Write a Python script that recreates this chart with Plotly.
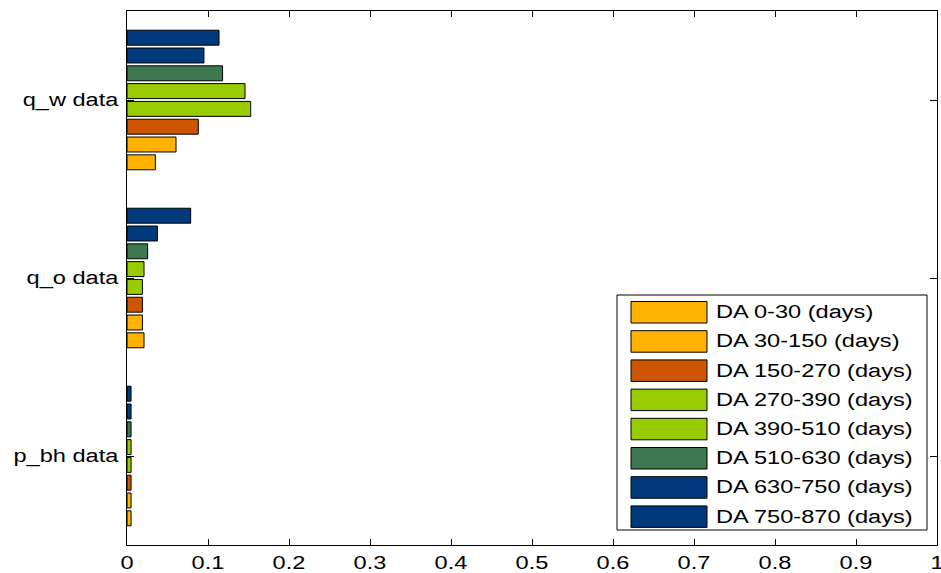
import plotly.graph_objects as go

# Categories on the y axis, bottom to top
categories = ["p_bh data", "q_o data", "q_w data"]

series_names = [
    "DA 0-30 (days)", "DA 30-150 (days)", "DA 150-270 (days)", "DA 270-390 (days)",
    "DA 390-510 (days)", "DA 510-630 (days)", "DA 630-750 (days)", "DA 750-870 (days)",
]

# Values per series, in the same order as `categories`
da_0_30 = [0.005, 0.021, 0.035]
da_30_150 = [0.005, 0.019, 0.0605]
da_150_270 = [0.005, 0.019, 0.088]
da_270_390 = [0.005, 0.019, 0.1527]
da_390_510 = [0.005, 0.021, 0.1457]
da_510_630 = [0.005, 0.0255, 0.118]
da_630_750 = [0.005, 0.0375, 0.095]
da_750_870 = [0.005, 0.0786, 0.1136]

series_values = [da_0_30, da_30_150, da_150_270, da_270_390,
                 da_390_510, da_510_630, da_630_750, da_750_870]

series_colors = ["#FFB300", "#FFB300", "#CC5500", "#99CC00",
                 "#99CC00", "#3D7850", "#003A7D", "#003A7D"]

x_tick_values = [0, 0.1, 0.2, 0.3, 0.4, 0.5, 0.6, 0.7, 0.8, 0.9, 1]
x_tick_labels = ["0", "0.1", "0.2", "0.3", "0.4", "0.5", "0.6", "0.7", "0.8", "0.9", "1"]

FONT = "Liberation Sans"
FONT_SIZE = 18
TEXT_STRETCH = 1.31  # wide lettering: glyphs drawn horizontally stretched

fig = go.Figure()
for name, vals, col in zip(series_names, series_values, series_colors):
    fig.add_trace(go.Bar(
        y=categories, x=vals, name=name, orientation="h",
        marker=dict(color=col, line=dict(color="black", width=1)),
        showlegend=False,
    ))

# Legend box drawn in paper coordinates with wide colour swatches
W, H = 941, 573
ml, mr, mt, mb = 127, 4, 11, 28
pw, ph = W - ml - mr, H - mt - mb


def px_x(px):
    return (px - ml) / pw


def px_y(py):
    return (H - mb - py) / ph


shapes = [dict(type="rect", xref="paper", yref="paper",
               x0=px_x(617), x1=px_x(927), y0=px_y(530), y1=px_y(295),
               line=dict(color="black", width=1), fillcolor="white", layer="above")]
annotations = []
first_top, pitch, sw_h = 301.5, 29.2, 21.5
for i, (name, col) in enumerate(zip(series_names, series_colors)):
    top = first_top + i * pitch
    shapes.append(dict(type="rect", xref="paper", yref="paper",
                       x0=px_x(631), x1=px_x(707), y0=px_y(top + sw_h), y1=px_y(top),
                       line=dict(color="black", width=1), fillcolor=col, layer="above"))
    annotations.append(dict(xref="paper", yref="paper", x=px_x(714), y=px_y(top + sw_h / 2),
                            text=name, showarrow=False, xanchor="left", yanchor="middle",
                            font=dict(family=FONT, size=FONT_SIZE, color="black")))

fig.update_layout(
    template="none",
    width=W, height=H,
    margin=dict(l=ml, r=mr, t=mt, b=mb, pad=0),
    paper_bgcolor="white", plot_bgcolor="white",
    barmode="group", bargap=0.2, bargroupgap=0.16,
    font=dict(family=FONT, size=FONT_SIZE, color="black"),
    shapes=shapes, annotations=annotations,
    showlegend=False,
)
fig.update_xaxes(
    range=[0, 1], tickvals=x_tick_values, ticktext=x_tick_labels,
    showgrid=False, zeroline=False, showline=True, linecolor="black", linewidth=1,
    mirror="allticks", ticks="inside", ticklen=6, tickcolor="black", automargin=False,
    ticklabeloverflow="allow", ticklabelstandoff=1,
)
fig.update_yaxes(
    range=[-0.5, 2.5], categoryorder="array", categoryarray=categories,
    showgrid=False, zeroline=False, showline=True, linecolor="black", linewidth=1,
    mirror="allticks", ticks="inside", ticklen=7, tickcolor="black", automargin=False,
    ticklabelstandoff=4,
)

# Widen every text run horizontally; legend entries keep their left edge.
stretch_js = """
var gd = document.getElementById('{plot_id}');
var k = %s;
gd.querySelectorAll('text').forEach(function (t) {
  if (!t.textContent) return;
  var b0 = t.getBBox();
  var w = t.getComputedTextLength();
  t.setAttribute('lengthAdjust', 'spacingAndGlyphs');
  t.setAttribute('textLength', (w * k).toFixed(2));
  if (t.classList.contains('annotation-text')) {
    var b1 = t.getBBox();
    var x = parseFloat(t.getAttribute('x') || '0');
    t.setAttribute('x', (x + (b0.x - b1.x)).toFixed(2));
  }
});
""" % TEXT_STRETCH

fig.write_html("out.html", post_script=stretch_js)
